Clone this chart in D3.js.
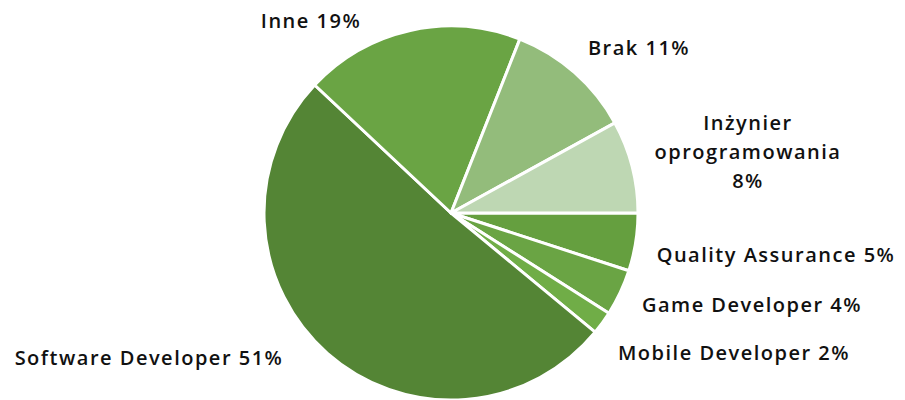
<!DOCTYPE html>
<html>
<head>
<meta charset="utf-8">
<script src="https://cdn.jsdelivr.net/npm/d3@7"></script>
<style>
  body { margin: 0; background: #fff; }
  text { font-family: "Open Sans", Lato, sans-serif; font-weight: 600; fill: #111; }
</style>
</head>
<body>
<div class="pie-chart"></div>
<script>
// Data

const categories = ['Quality Assurance', 'Game Developer', 'Mobile Developer', 'Software Developer', 'Inne', 'Brak', 'Inżynier oprogramowania']
const values = [5, 4, 2, 51, 19, 11, 8]
const colors = ['#659f3f', '#6aa444', '#70ad47', '#548535', '#6aa444', '#93bc7b', '#bed7b3']

// label layout (text centre, split lines)
const labelLayout = [
  {x: 776, y: 254, lines: ['Quality Assurance 5%']},
  {x: 752, y: 304, lines: ['Game Developer 4%']},
  {x: 734, y: 352, lines: ['Mobile Developer 2%']},
  {x: 149, y: 357, lines: ['Software Developer 51%']},
  {x: 311, y: 20, lines: ['Inne 19%']},
  {x: 639, y: 47, lines: ['Brak 11%']},
  {x: 748, y: 122, lines: ['Inżynier', 'oprogramowania', '8%']}
]

const drawPieChart = () => {
  const width = 905
  const height = 400
  const cx = 451
  const cy = 213
  const radius = 187

  const svg = d3.select('.pie-chart')
    .append('svg')
      .attr('width', width)
      .attr('height', height)

  const pie = d3.pie()
    .sort(null)
    .startAngle(Math.PI / 2)
    .endAngle(Math.PI / 2 + 2 * Math.PI)

  const arc = d3.arc()
    .innerRadius(0)
    .outerRadius(radius)

  const g = svg.append('g')
      .attr('transform', `translate(${cx},${cy})`)

  g.selectAll('path')
      .data(pie(values))
    .enter().append('path')
      .attr('d', arc)
      .attr('fill', (d, i) => colors[i])
      .attr('stroke', '#fff')
      .attr('stroke-width', 3)
      .attr('stroke-linejoin', 'round')

  const labels = svg.append('g')
    .selectAll('text')
    .data(labelLayout)
    .enter().append('text')
      .attr('x', (d) => d.x)
      .attr('y', (d) => d.y)
      .attr('text-anchor', 'middle')
      .attr('dominant-baseline', 'central')
      .style('font-size', '20px')
      .style('letter-spacing', '1.5px')

  labels.selectAll('tspan')
      .data((d) => d.lines.map((t) => ({t, x: d.x})))
    .enter().append('tspan')
      .attr('x', (d) => d.x)
      .attr('dy', (d, i) => i === 0 ? 0 : 29)
      .text((d) => d.t)
}

drawPieChart()
</script>
</body>
</html>
